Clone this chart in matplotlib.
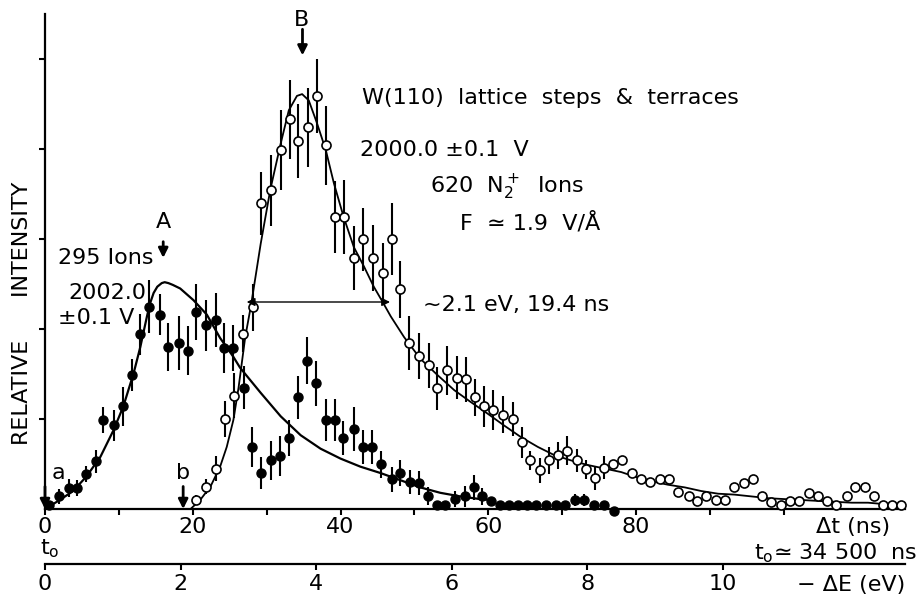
import matplotlib
matplotlib.use("Agg")
import matplotlib.pyplot as plt

plt.rcParams['font.family'] = 'DejaVu Sans'
plt.rcParams['mathtext.default'] = 'regular'

# -----------------------------
# DATA  (time of flight in ns, intensity in arbitrary units)
# -----------------------------

# 295 ions, 2002.0 V  (filled circles)
filled_t = [0.6, 1.9, 3.2, 4.3, 5.5, 6.9, 7.9, 9.3, 10.6, 11.8, 12.9, 14.1,
            15.5, 16.7, 18.1, 19.4, 20.4, 21.8, 23.1, 24.2, 25.5, 26.9, 28.0,
            29.3, 30.6, 31.8, 33.0, 34.2, 35.5, 36.7, 38.0, 39.3, 40.4, 41.8,
            43.0, 44.3, 45.5, 46.9, 48.1, 49.4, 50.6, 51.8, 53.0, 54.2, 55.5,
            56.9, 58.0, 59.2, 60.4, 61.6, 62.8, 64.0, 65.2, 66.5, 67.8, 69.1,
            70.4, 71.7, 73.0, 74.3, 75.6, 77.0]
filled_y = [0.04, 0.14, 0.23, 0.23, 0.39, 0.53, 0.99, 0.93, 1.14, 1.49, 1.94, 2.25,
            2.16, 1.80, 1.85, 1.76, 2.19, 2.04, 2.10, 1.79, 1.79, 1.35, 0.69,
            0.40, 0.54, 0.59, 0.79, 1.24, 1.65, 1.40, 0.99, 0.99, 0.79, 0.89,
            0.69, 0.69, 0.50, 0.33, 0.40, 0.30, 0.29, 0.15, 0.04, 0.04, 0.11,
            0.14, 0.24, 0.14, 0.09, 0.04, 0.04, 0.04, 0.04, 0.04, 0.04, 0.04,
            0.04, 0.10, 0.10, 0.04, 0.04, -0.02]
filled_err = [0, 0.08, 0.10, 0.09, 0.09, 0.13, 0.14, 0.17, 0.22, 0.18, 0.23, 0.29,
              0.23, 0.27, 0.30, 0.27, 0.31, 0.28, 0.30, 0.28, 0.26, 0.24, 0.22,
              0.18, 0.22, 0.22, 0.20, 0.24, 0.26, 0.25, 0.23, 0.23, 0.19, 0.24,
              0.19, 0.19, 0.15, 0.14, 0.14, 0.13, 0.13, 0.10, 0, 0, 0.09,
              0.12, 0.14, 0.09, 0, 0, 0, 0, 0, 0, 0, 0,
              0, 0.07, 0.07, 0, 0, 0]

# 620 N2+ ions, 2000.0 V  (open circles)
open_t = [20.5, 21.8, 23.1, 24.3, 25.6, 26.8, 28.1, 29.2, 30.6, 31.9, 33.2, 34.3,
          35.6, 36.8, 38.0, 39.3, 40.5, 41.8, 43.1, 44.4, 45.7, 46.9, 48.1, 49.3,
          50.6, 52.0, 53.1, 54.4, 55.7, 57.0, 58.2, 59.4, 60.7, 62.0, 63.3, 64.5,
          65.7, 67.0, 68.2, 69.5, 70.7, 72.0, 73.2, 74.4, 75.6, 76.9, 78.1, 79.5,
          80.7, 81.9, 83.3, 84.5, 85.7, 87.1, 88.3, 89.5, 90.8, 92.0, 93.2, 94.6,
          95.8, 97.0, 98.3, 99.6, 100.9, 102.1, 103.4, 104.6, 105.9, 107.1, 108.5,
          109.7, 111.0, 112.2, 113.4, 114.7, 115.9]
open_y = [0.10, 0.25, 0.45, 1.00, 1.26, 1.95, 2.24, 3.40, 3.54, 3.99, 4.33, 4.09,
          4.24, 4.59, 4.04, 3.24, 3.24, 2.79, 3.00, 2.79, 2.62, 3.00, 2.44, 1.85,
          1.70, 1.60, 1.34, 1.54, 1.46, 1.44, 1.24, 1.14, 1.10, 1.05, 1.00, 0.74,
          0.54, 0.43, 0.54, 0.60, 0.65, 0.54, 0.44, 0.34, 0.46, 0.50, 0.54, 0.40,
          0.33, 0.30, 0.33, 0.33, 0.19, 0.14, 0.09, 0.14, 0.10, 0.10, 0.24, 0.29,
          0.33, 0.14, 0.08, 0.04, 0.09, 0.09, 0.18, 0.14, 0.09, 0.04, 0.14,
          0.24, 0.24, 0.14, 0.04, 0.04, 0.04]
open_err = [0.06, 0.08, 0.14, 0.20, 0.25, 0.21, 0.26, 0.35, 0.39, 0.44, 0.44, 0.41,
            0.44, 0.41, 0.44, 0.40, 0.41, 0.36, 0.35, 0.37, 0.34, 0.40, 0.32, 0.30,
            0.26, 0.25, 0.24, 0.27, 0.24, 0.25, 0.21, 0.23, 0.22, 0.21, 0.19, 0.17,
            0.11, 0.14, 0.15, 0.15, 0.16, 0.13, 0.11, 0.13, 0.13, 0, 0, 0,
            0, 0, 0, 0, 0, 0, 0, 0, 0, 0, 0, 0,
            0, 0, 0, 0, 0, 0, 0, 0, 0, 0, 0,
            0, 0, 0, 0, 0, 0]

# fitted curves
fitA_t = [0, 2.0, 3.8, 5.6, 7.5, 9.3, 10.6, 12.0, 12.9, 13.8, 14.2, 14.7, 15.2,
          15.8, 16.2, 16.7, 17.3, 18.3, 20.1, 21.9, 23.7, 25.5, 26.4, 29.2, 31.9,
          34.6, 37.3, 40.0, 42.7, 45.4, 48.1, 50.8, 53.5, 56.2, 58.9, 60.3]
fitA_y = [0, 0.10, 0.20, 0.36, 0.58, 0.88, 1.14, 1.51, 1.80, 2.14, 2.28, 2.40, 2.47,
          2.51, 2.52, 2.51, 2.49, 2.45, 2.32, 2.16, 1.90, 1.69, 1.57, 1.29, 1.03,
          0.82, 0.67, 0.56, 0.47, 0.40, 0.32, 0.24, 0.18, 0.14, 0.11, 0.10]

fitB_t = [19.7, 21.0, 22.4, 23.7, 24.6, 25.5, 26.2, 27.1, 27.9, 29.2, 30.5, 31.9,
          33.0, 34.1, 34.8, 35.7, 36.8, 38.0, 39.1, 40.4, 41.8, 43.2, 44.5, 45.7,
          46.8, 48.6, 50.8, 53.1, 55.4, 57.6, 59.9, 62.1, 64.4, 66.7, 68.9, 71.2,
          73.4, 75.7, 78.0, 79.8, 82.0, 84.3, 86.6, 88.8, 91.1, 93.3, 95.6, 97.9,
          100.1, 102.4, 104.6, 106.9, 109.2, 111.4, 112.8]
fitB_y = [0, 0.10, 0.25, 0.47, 0.69, 0.99, 1.35, 1.91, 2.27, 2.95, 3.55, 4.06,
          4.43, 4.59, 4.61, 4.54, 4.29, 3.99, 3.62, 3.25, 2.91, 2.69, 2.47, 2.30,
          2.14, 1.91, 1.67, 1.49, 1.32, 1.19, 1.06, 0.93, 0.80, 0.69, 0.60, 0.54,
          0.49, 0.45, 0.41, 0.36, 0.31, 0.27, 0.24, 0.20, 0.17, 0.16, 0.14, 0.12,
          0.11, 0.10, 0.09, 0.08, 0.07, 0.07, 0.06]

fwhm_ns = 19.4
fwhm_center = 37.0
half_max = 2.30

time_ticks = [0, 20, 40, 60, 80, 100]
time_labels = ['0', '20', '40', '60', '80', '']
energy_ticks = [0, 2, 4, 6, 8, 10]
ev_per_ns = 7.39 / 67.8

# -----------------------------
# FIGURE
# -----------------------------
W, H = 920, 594
fig = plt.figure(figsize=(W / 100, H / 100), dpi=100)
ax = fig.add_axes([45 / W, 85 / H, 860 / W, 495 / H])


def fx(px):
    return px / W


def fy(py):
    return 1 - py / H


ax.plot(fitA_t, fitA_y, color='black', lw=1.6, zorder=2)
ax.plot(fitB_t, fitB_y, color='black', lw=1.3, zorder=2)

ax.errorbar(open_t, open_y, yerr=open_err, fmt='o', ms=6.5, mfc='white', mec='black',
            mew=1.2, ecolor='black', elinewidth=1.5, capsize=0, zorder=3, clip_on=False)
ax.errorbar(filled_t, filled_y, yerr=filled_err, fmt='o', ms=6.5, mfc='black', mec='black',
            ecolor='black', elinewidth=1.5, capsize=0, zorder=4, clip_on=False)

# FWHM arrow
ax.annotate('', xy=(fwhm_center + fwhm_ns / 2, half_max),
            xytext=(fwhm_center - fwhm_ns / 2, half_max),
            arrowprops=dict(arrowstyle='<|-|>', color='black', lw=1.0,
                            mutation_scale=12, shrinkA=0, shrinkB=0), zorder=5)

# peak markers and onset markers
arrow_kw = dict(arrowstyle='-|>', color='black', lw=2.0, mutation_scale=14,
                shrinkA=0, shrinkB=0)
ax.annotate('', xy=(34.85, 5.04), xytext=(34.85, 5.33), arrowprops=arrow_kw)
ax.annotate('', xy=(16.0, 2.79), xytext=(16.0, 2.97), arrowprops=arrow_kw)
ax.annotate('', xy=(0, 0.0), xytext=(0, 0.25), arrowprops=arrow_kw, annotation_clip=False)
ax.annotate('', xy=(18.7, 0.0), xytext=(18.7, 0.25), arrowprops=arrow_kw)

ax.set_xlim(0, 116.4)
ax.set_ylim(0, 5.5)
for s in ['top', 'right']:
    ax.spines[s].set_visible(False)
for s in ['left', 'bottom']:
    ax.spines[s].set_linewidth(1.6)

ax.set_xticks(time_ticks)
ax.set_xticklabels(time_labels)
ax.set_xticks([10, 30, 50, 70, 90], minor=True)
ax.set_yticks([1, 2, 3, 4, 5])
ax.set_yticklabels([])
ax.tick_params(axis='x', which='both', length=4.5, width=1.5, labelsize=16, pad=1)
ax.tick_params(axis='y', length=4, width=1.5)

# energy scale below the time scale
sec = ax.secondary_xaxis(-55 / 495, functions=(lambda t: t * ev_per_ns,
                                               lambda e: e / ev_per_ns))
sec.set_xticks(energy_ticks)
sec.spines['bottom'].set_linewidth(1.6)
sec.tick_params(length=4.5, width=1.5, labelsize=16, pad=3)

txt = dict(fontsize=16, va='center', color='black')
fig.text(fx(22), fy(313), 'RELATIVE      INTENSITY', rotation=90, ha='center', **txt)
fig.text(fx(302), fy(20), 'B', ha='center', **txt)
fig.text(fx(163), fy(222), 'A', ha='center', **txt)
fig.text(fx(58), fy(258), '295 Ions', ha='left', **txt)
fig.text(fx(68), fy(293), '2002.0', ha='left', **txt)
fig.text(fx(58), fy(318), '±0.1 V', ha='left', **txt)
fig.text(fx(52), fy(473), 'a', ha='left', **txt)
fig.text(fx(176), fy(473), 'b', ha='left', **txt)
fig.text(fx(362), fy(98), 'W(110)  lattice  steps  &  terraces', ha='left', **txt)
fig.text(fx(360), fy(150), '2000.0 ±0.1  V', ha='left', **txt)
fig.text(fx(430), fy(187), '620  $N_2^+$  Ions', ha='left', **txt)
fig.text(fx(460), fy(223), 'F  ≃ 1.9  V/Å', ha='left', **txt)
fig.text(fx(423), fy(305), '~2.1 eV, 19.4 ns', ha='left', **txt)
fig.text(fx(890), fy(527), 'Δt (ns)', ha='right', **txt)
fig.text(fx(917), fy(553), '$t_o$≃ 34 500  ns', ha='right', **txt)
fig.text(fx(40), fy(549), '$t_o$', ha='left', **txt)
fig.text(fx(905), fy(585), '− ΔE (eV)', ha='right', **txt)

fig.savefig('out.png', dpi=100, facecolor='white')
